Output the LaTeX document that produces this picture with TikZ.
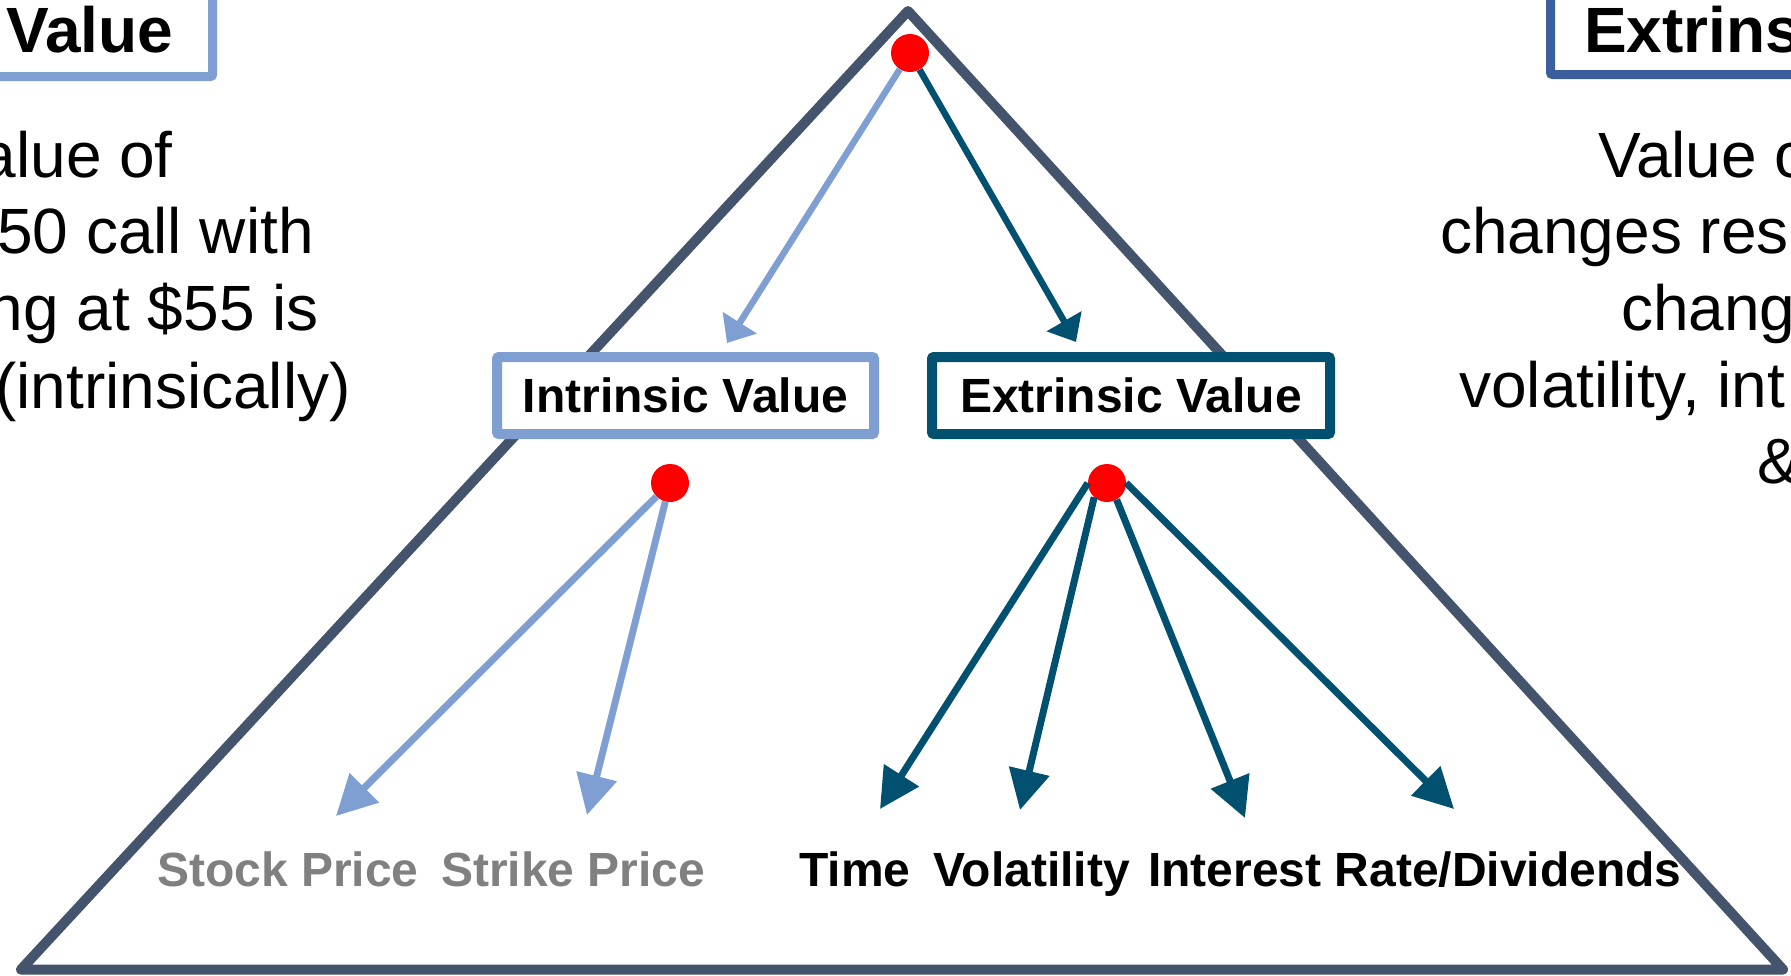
\documentclass[tikz,border=0pt]{standalone}
\usepackage{fontspec}
\setmainfont{Liberation Sans}
\usetikzlibrary{arrows.meta}
\definecolor{lblue}{HTML}{7F9FD3}
\definecolor{dteal}{HTML}{02506F}
\definecolor{slate}{HTML}{44546C}
\definecolor{hblue}{HTML}{3A5E9E}
\definecolor{gtxt}{HTML}{808080}
\begin{document}
\begin{tikzpicture}[x=1pt,y=-1pt,
  tri/.style={draw=slate, line width=10pt, line join=round},
  vbox/.style={draw=#1, line width=10pt, fill=white, rounded corners=2pt, inner sep=0pt,
    font=\fontsize{48}{58}\selectfont\bfseries},
  hframe/.style={draw=#1, line width=9pt, rounded corners=2pt},
  dot/.style={circle, fill=red, minimum size=38pt, inner sep=0pt},
  toparrow/.style={draw=#1, line width=6.5pt, -{Triangle[width=39pt,length=24pt]}},
  lowarrow/.style={draw=#1, line width=7pt, -{Triangle[width=40pt,length=40pt]}},
  lbl/.style={font=\fontsize{48}{58}\selectfont\bfseries, inner sep=0pt, anchor=base west},
  para/.style={font=\fontsize{64}{77}\selectfont, inner sep=0pt},
  head/.style={font=\fontsize{64}{76}\selectfont\bfseries, inner sep=0pt, anchor=base west}
]
\useasboundingbox (0,0) rectangle (1791,975);
\clip (0,0) rectangle (1791,975);
\fill[white] (0,0) rectangle (1791,975);

% big triangle
\draw[tri] (908,11) -- (1783,969.5) -- (21,969.5) -- cycle;

% corner header frames
\draw[hframe=lblue] (-20,76.5) -| (212.5,-20);
\draw[hframe=hblue] (1550.5,-20) |- (1811,74.5);
\node[head] (hv) at (6,52) {Value};
\node[head] (he) at (1584,52) {Extrins};

% left paragraph
\node[para, anchor=base east] (l1) at (173,177) {alue of};
\node[para, anchor=base east] (l2) at (314,253) {50 call with};
\node[para, anchor=base east] (l3) at (319,330) {ng at \$55 is};
\node[para, anchor=base east] (l4) at (351,408) {(intrinsically)};

% right paragraph
\node[para, anchor=base west] (r1) at (1598,177) {Value o};
\node[para, anchor=base west] (r2) at (1440,253) {changes res};
\node[para, anchor=base west] (r3) at (1621,330) {chang};
\node[para, anchor=base west] (r4) at (1459,407) {volatility, int};
\node[para, anchor=base west] (r5) at (1757,483) {\&};

% value boxes
\node[vbox=lblue, minimum width=377pt, minimum height=77pt] (iv) at (685.5,395.5) {Intrinsic Value};
\node[vbox=dteal, minimum width=398pt, minimum height=77pt] (ev) at (1131,395.5) {Extrinsic Value};

% dots
\node[dot] (d1) at (910,53) {};
\node[dot] (d2) at (670,483) {};
\node[dot] (d3) at (1107,483) {};

% arrow tip points
\coordinate (a1) at (727,343);
\coordinate (a2) at (1076,342);
\coordinate (b1) at (336,816);
\coordinate (b2) at (587,815);
\coordinate (c1) at (880,809);
\coordinate (c2) at (1020,810);
\coordinate (c3) at (1245,818);
\coordinate (c4) at (1454,809);

% arrows
\draw[toparrow=lblue] (d1) -- (a1);
\draw[toparrow=dteal] (d1) -- (a2);
\draw[lowarrow=lblue] (d2) -- (b1);
\draw[lowarrow=lblue] (d2) -- (b2);
\draw[lowarrow=dteal] (d3.180) -- (c1);
\draw[lowarrow=dteal] (d3.228) -- (c2);
\draw[lowarrow=dteal] (d3.300) -- (c3);
\draw[lowarrow=dteal] (d3.0) -- (c4);

% bottom labels
\node[lbl, text=gtxt] (s1) at (157,886) {Stock Price};
\node[lbl, text=gtxt] (s2) at (441,886) {Strike Price};
\node[lbl] (t1) at (799,886) {Time};
\node[lbl] (t2) at (933,886) {Volatility};
\node[lbl] (t3) at (1148,886) {Interest Rate/Dividends};
\end{tikzpicture}
\end{document}
